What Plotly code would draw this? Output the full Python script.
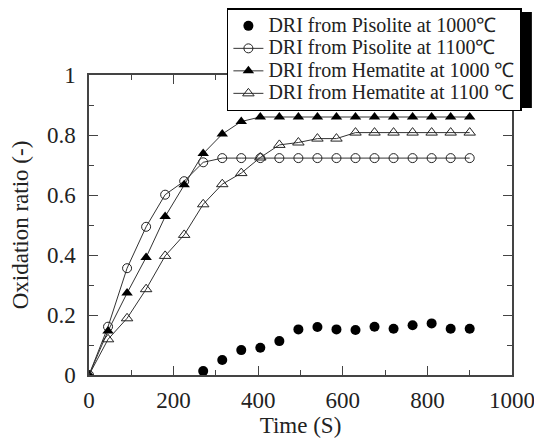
import plotly.graph_objects as go

# time axis, one reading every 45 s
time_s = [0, 45, 90, 135, 180, 225, 270, 315, 360, 405, 450, 495,
          540, 585, 630, 675, 720, 765, 810, 855, 900]

# DRI from Pisolite at 1000 C (readings start at 270 s)
pis1000_t = [270, 315, 360, 405, 450, 495, 540, 585, 630, 675, 720, 765, 810, 855, 900]
pis1000 = [0.013, 0.05, 0.083, 0.091, 0.113, 0.152, 0.160, 0.152, 0.150, 0.161,
           0.154, 0.166, 0.172, 0.154, 0.154]

pis1100 = [0, 0.161, 0.356, 0.494, 0.601, 0.646, 0.709, 0.723, 0.723, 0.723, 0.723,
           0.723, 0.723, 0.723, 0.723, 0.723, 0.723, 0.723, 0.723, 0.723, 0.723]

hem1000 = [0, 0.147, 0.273, 0.392, 0.528, 0.634, 0.738, 0.803, 0.845, 0.860, 0.860,
           0.860, 0.860, 0.860, 0.860, 0.860, 0.860, 0.860, 0.860, 0.860, 0.860]

hem1100 = [0, 0.119, 0.189, 0.286, 0.397, 0.467, 0.569, 0.636, 0.673, 0.725, 0.767,
           0.775, 0.788, 0.788, 0.808, 0.808, 0.808, 0.808, 0.808, 0.808, 0.808]

series_names = ["DRI from Pisolite at 1000\u2103",
                "DRI from Pisolite at 1100\u2103",
                "DRI from Hematite at 1000 \u2103",
                "DRI from Hematite at 1100 \u2103"]

FONT = "Liberation Serif, Times New Roman, serif"
INK = "#222"


def leg(name):
    # bigger text than the legend font so the rows stay tight
    return '<span style="font-size:20px">' + name + '</span>'


fig = go.Figure()

fig.add_trace(go.Scatter(x=pis1000_t, y=pis1000, mode="markers",
                         name=leg(series_names[0]),
                         marker=dict(symbol="circle", size=10, color="black")))
fig.add_trace(go.Scatter(x=time_s, y=pis1100, mode="lines+markers",
                         name=leg(series_names[1]),
                         line=dict(color="#333", width=1),
                         marker=dict(symbol="circle-open", size=9, color="#222",
                                     line=dict(width=1))))
fig.add_trace(go.Scatter(x=time_s, y=hem1000, mode="lines+markers",
                         name=leg(series_names[2]),
                         line=dict(color="#333", width=1),
                         marker=dict(symbol="triangle-up", size=10, color="black")))
fig.add_trace(go.Scatter(x=time_s, y=hem1100, mode="lines+markers",
                         name=leg(series_names[3]),
                         line=dict(color="#333", width=1),
                         marker=dict(symbol="triangle-up-open", size=10, color="#222",
                                     line=dict(width=1))))

axis_common = dict(
    showline=True, linecolor="#444", linewidth=1.5, mirror="allticks",
    ticks="inside", ticklen=9, tickwidth=1.2, tickcolor="#444",
    showgrid=False, zeroline=False,
    tickfont=dict(family=FONT, size=23, color=INK),
)

fig.update_xaxes(range=[0, 1000], dtick=200, ticklabelstandoff=4,
                 minor=dict(dtick=100, ticks="inside", ticklen=5, tickcolor="#444"),
                 title=dict(text="Time (S)", font=dict(family=FONT, size=23, color=INK),
                            standoff=2),
                 **axis_common)
fig.update_yaxes(range=[0, 1], dtick=0.2, ticklabelstandoff=7,
                 minor=dict(dtick=0.1, ticks="inside", ticklen=5, tickcolor="#444"),
                 title=dict(text="Oxidation ratio (-)", font=dict(family=FONT, size=23, color=INK),
                            standoff=12),
                 **axis_common)

# drop shadow behind the legend box
fig.add_shape(type="rect", xref="paper", yref="paper",
              x0=0.336, x1=1.047, y0=0.89, y1=1.21,
              fillcolor="black", line=dict(width=0), layer="above")

# the page body has an 8px margin, so the figure is 8px smaller on each axis
fig.update_layout(
    width=534, height=434,
    margin=dict(l=81, r=30, t=67, b=67, autoexpand=False),
    paper_bgcolor="white", plot_bgcolor="white",
    showlegend=True,
    legend=dict(x=0.326, y=1.223, xanchor="left", yanchor="top",
                bgcolor="white", bordercolor="black", borderwidth=1.5,
                font=dict(family=FONT, size=15, color=INK),
                tracegroupgap=0, itemwidth=30),
)

fig.write_html("out.html")
